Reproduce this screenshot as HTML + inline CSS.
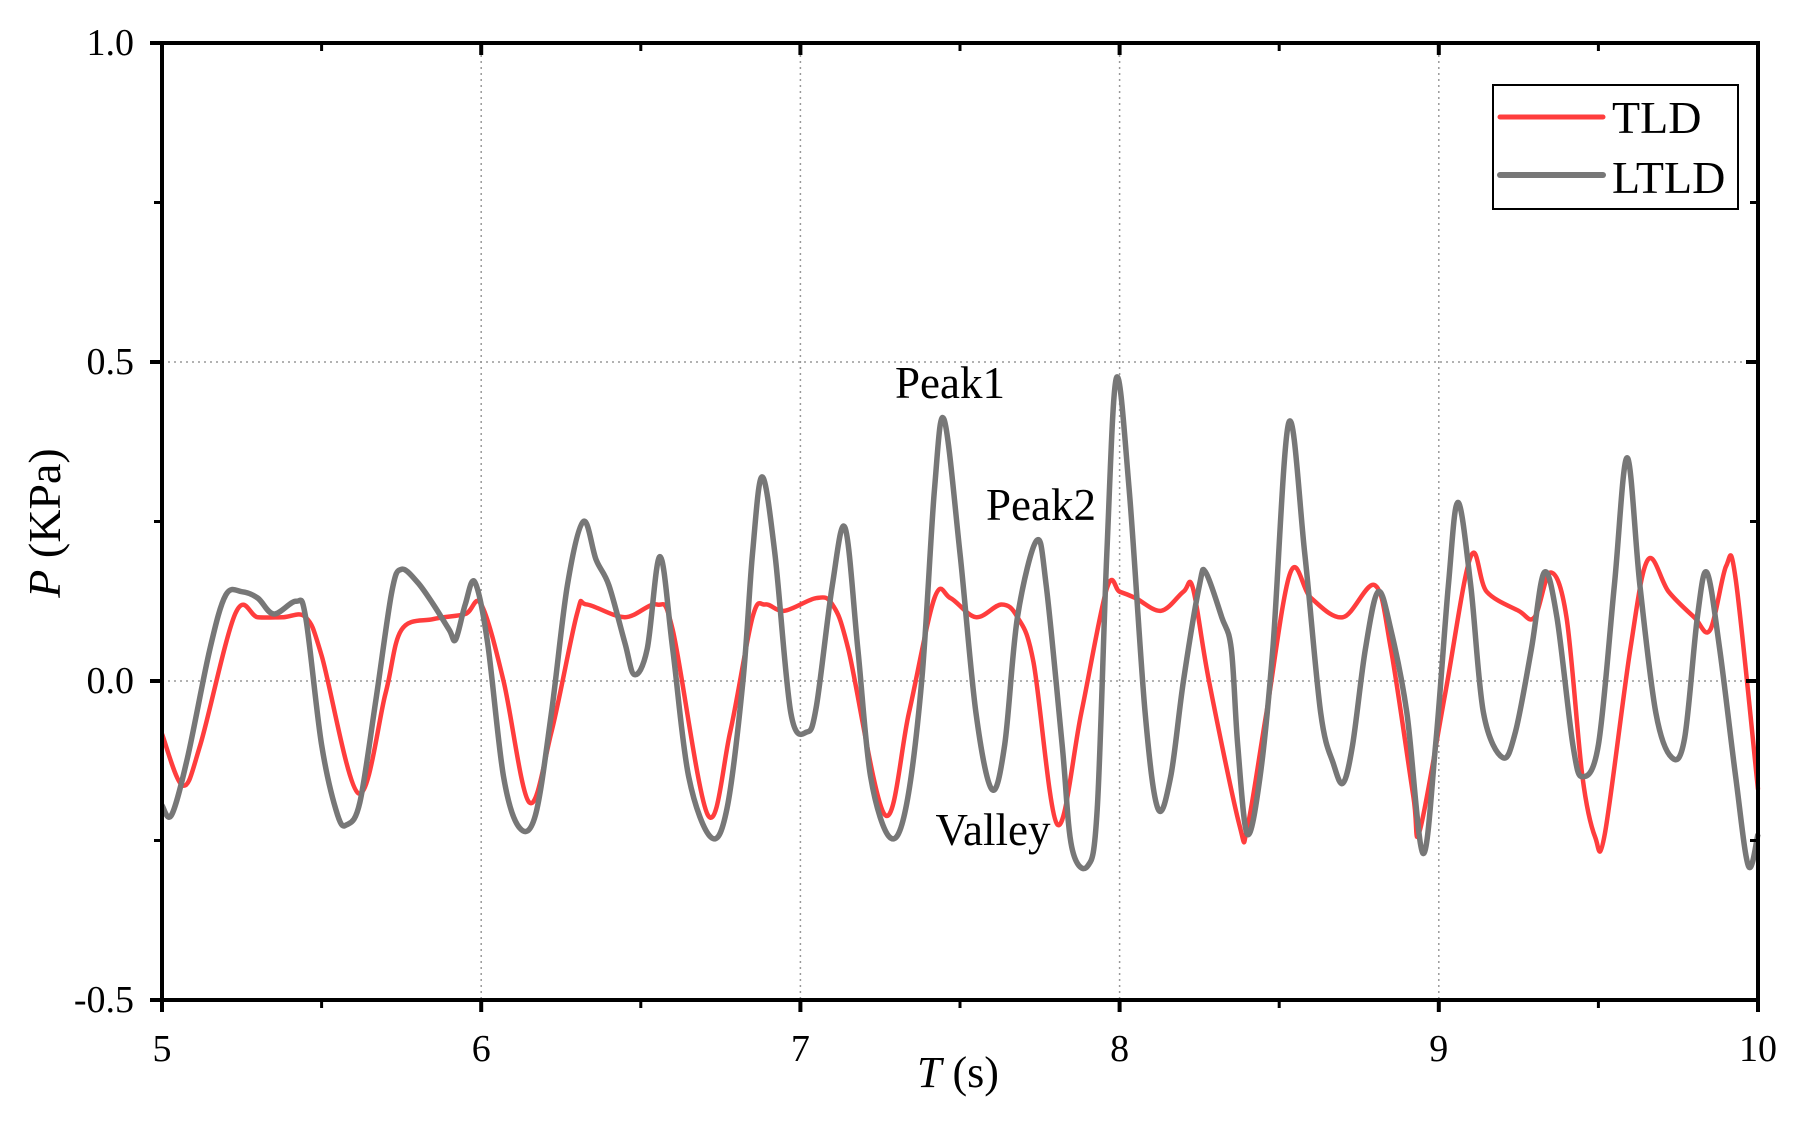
<!DOCTYPE html>
<html><head><meta charset="utf-8"><style>
body{margin:0;background:#fff}
svg{display:block}
text{font-family:"Liberation Serif",serif;fill:#000}
</style></head><body>
<svg id="chart" width="1800" height="1124" viewBox="0 0 1800 1124">
<g id="grid"></g>
<g id="series"></g>
<g id="axes"></g>
<text x="950" y="398" font-size="45" text-anchor="middle">Peak1</text>
<text x="1041" y="520" font-size="45" text-anchor="middle">Peak2</text>
<text x="993" y="845" font-size="45" text-anchor="middle">Valley</text>
<text x="958" y="1087" font-size="44" text-anchor="middle"><tspan font-style="italic">T</tspan> (s)</text>
<text transform="translate(60,523) rotate(-90)" font-size="46" text-anchor="middle"><tspan font-style="italic">P</tspan> (KPa)</text>
<g>
<rect x="1493" y="85" width="245" height="124" fill="#fff" stroke="#000" stroke-width="2"/>
<line x1="1500" y1="117" x2="1603" y2="117" stroke="#ff3d3d" stroke-width="5" stroke-linecap="round"/>
<text x="1612" y="133" font-size="46">TLD</text>
<line x1="1500" y1="175" x2="1603" y2="175" stroke="#777" stroke-width="6" stroke-linecap="round"/>
<text x="1612" y="193" font-size="46">LTLD</text>
</g>
</svg>
<script>
const xTicks=[5,6,7,8,9,10];
const xTickLabels=["5","6","7","8","9","10"];
const yTicks=[-0.5,0,0.5,1.0];
const yTickLabels=["-0.5","0.0","0.5","1.0"];
const tldT=[5.0,5.065,5.12,5.23,5.3,5.38,5.45,5.5,5.615,5.7,5.75,5.85,5.95,6.0,6.07,6.15,6.22,6.3,6.33,6.45,6.55,6.6,6.71,6.78,6.85,6.89,6.95,7.05,7.1,7.15,7.265,7.34,7.42,7.47,7.55,7.63,7.68,7.73,7.805,7.88,7.96,8.0,8.05,8.13,8.2,8.23,8.28,8.375,8.4,8.46,8.535,8.6,8.7,8.8,8.85,8.92,8.94,9.02,9.1,9.15,9.25,9.3,9.35,9.4,9.45,9.49,9.52,9.6,9.655,9.72,9.8,9.85,9.9,9.93,10.0];
const tldV=[-0.083,-0.164,-0.1,0.106,0.1,0.1,0.1,0.04,-0.176,-0.02,0.08,0.097,0.105,0.12,0.0,-0.19,-0.08,0.105,0.12,0.1,0.12,0.08,-0.21,-0.08,0.1,0.12,0.11,0.13,0.12,0.05,-0.21,-0.05,0.13,0.13,0.1,0.12,0.1,0.03,-0.225,-0.05,0.145,0.14,0.13,0.11,0.14,0.145,0.0,-0.225,-0.23,-0.05,0.17,0.13,0.1,0.15,0.05,-0.18,-0.235,-0.02,0.195,0.14,0.11,0.1,0.17,0.1,-0.15,-0.245,-0.24,0.05,0.19,0.14,0.1,0.08,0.18,0.16,-0.17];
const ltldT=[5.0,5.03,5.08,5.15,5.2,5.25,5.3,5.35,5.42,5.45,5.5,5.55,5.58,5.62,5.67,5.72,5.75,5.8,5.85,5.9,5.92,5.95,5.98,6.02,6.07,6.12,6.17,6.22,6.27,6.32,6.36,6.4,6.45,6.48,6.52,6.56,6.6,6.65,6.72,6.77,6.82,6.85,6.88,6.92,6.97,7.02,7.05,7.1,7.14,7.18,7.22,7.28,7.33,7.38,7.42,7.45,7.5,7.55,7.6,7.64,7.68,7.74,7.77,7.82,7.85,7.9,7.93,7.96,7.99,8.03,8.08,8.12,8.16,8.2,8.25,8.27,8.32,8.35,8.37,8.4,8.44,8.48,8.53,8.58,8.63,8.67,8.7,8.73,8.77,8.81,8.85,8.9,8.95,8.99,9.03,9.06,9.1,9.14,9.2,9.24,9.29,9.33,9.37,9.42,9.45,9.5,9.55,9.59,9.63,9.68,9.73,9.77,9.81,9.84,9.88,9.93,9.97,10.0];
const ltldV=[-0.195,-0.21,-0.12,0.05,0.135,0.14,0.13,0.105,0.125,0.1,-0.1,-0.21,-0.225,-0.19,-0.03,0.14,0.175,0.155,0.12,0.08,0.065,0.12,0.155,0.06,-0.15,-0.23,-0.21,-0.05,0.15,0.25,0.19,0.15,0.06,0.01,0.05,0.195,0.05,-0.15,-0.245,-0.2,0.0,0.2,0.32,0.2,-0.05,-0.08,-0.04,0.15,0.24,0.05,-0.15,-0.245,-0.2,0.0,0.3,0.41,0.2,-0.05,-0.17,-0.1,0.1,0.22,0.15,-0.1,-0.26,-0.29,-0.2,0.2,0.475,0.3,-0.05,-0.2,-0.15,0.0,0.15,0.17,0.1,0.05,-0.1,-0.24,-0.15,0.05,0.405,0.2,-0.05,-0.13,-0.16,-0.1,0.05,0.14,0.08,-0.05,-0.27,-0.1,0.15,0.28,0.15,-0.05,-0.12,-0.08,0.05,0.17,0.1,-0.1,-0.15,-0.1,0.15,0.35,0.15,-0.05,-0.12,-0.09,0.1,0.17,0.05,-0.15,-0.29,-0.24];

const L=162,R=1758,T=43,B=1000;
const xs=t=>L+(t-5)/5*(R-L);
const ys=v=>B-(v+0.5)/1.5*(B-T);
const NS='http://www.w3.org/2000/svg';
function mk(tag,attrs,parent){const e=document.createElementNS(NS,tag);for(const k in attrs)e.setAttribute(k,attrs[k]);parent.appendChild(e);return e;}
const grid=document.getElementById('grid'),axes=document.getElementById('axes'),series=document.getElementById('series');
xTicks.forEach((t,i)=>{
  if(t>5&&t<10){const g=mk('line',{x1:xs(t),x2:xs(t),y1:T,y2:B,stroke:'#999','stroke-width':1.5,'stroke-dasharray':'2,4'},grid);
  
  }
  const tk=mk('line',{x1:xs(t),x2:xs(t),y1:B,y2:B+12,stroke:'#000','stroke-width':4},axes);
  
  
  mk('line',{x1:xs(t),x2:xs(t),y1:T,y2:T+12,stroke:'#000','stroke-width':4},axes);
  if(t<10){mk('line',{x1:xs(t+0.5),x2:xs(t+0.5),y1:B,y2:B+8,stroke:'#000','stroke-width':3},axes);
  mk('line',{x1:xs(t+0.5),x2:xs(t+0.5),y1:T,y2:T+8,stroke:'#000','stroke-width':3},axes);}
  const lb=mk('text',{x:xs(t),y:1061,'font-size':38,'text-anchor':'middle'},axes);
  lb.textContent=xTickLabels[i];
  
  
});
yTicks.forEach((v,i)=>{
  if(v>-0.5&&v<1){const g=mk('line',{x1:L,x2:R,y1:ys(v),y2:ys(v),stroke:'#999','stroke-width':1.5,'stroke-dasharray':'2,4'},grid);
  
  }
  const tk=mk('line',{x1:L-12,x2:L,y1:ys(v),y2:ys(v),stroke:'#000','stroke-width':4},axes);
  
  
  mk('line',{x1:R-12,x2:R,y1:ys(v),y2:ys(v),stroke:'#000','stroke-width':4},axes);
  if(v<1){mk('line',{x1:L-8,x2:L,y1:ys(v+0.25),y2:ys(v+0.25),stroke:'#000','stroke-width':3},axes);
  mk('line',{x1:R-8,x2:R,y1:ys(v+0.25),y2:ys(v+0.25),stroke:'#000','stroke-width':3},axes);}
  const lb=mk('text',{x:L-28,y:ys(v)+12,'font-size':38,'text-anchor':'end'},axes);
  lb.textContent=yTickLabels[i];
  
  
});
const frame=mk('rect',{x:L,y:T,width:R-L,height:B-T,fill:'none',stroke:'#000','stroke-width':4},axes);


function pathFor(ts,vs){
  const p=ts.map((t,i)=>[xs(t),ys(vs[i])]);
  let d='M'+p[0][0]+','+p[0][1];
  for(let i=0;i<p.length-1;i++){
    const p0=p[i-1]||p[i],p1=p[i],p2=p[i+1],p3=p[i+2]||p[i+1];
    const c1=[p1[0]+(p2[0]-p0[0])/6,p1[1]+(p2[1]-p0[1])/6],c2=[p2[0]-(p3[0]-p1[0])/6,p2[1]-(p3[1]-p1[1])/6];
    d+=`C${c1[0]},${c1[1]} ${c2[0]},${c2[1]} ${p2[0]},${p2[1]}`;
  }
  return d;
}
const red=mk('path',{d:pathFor(tldT,tldV),fill:'none',stroke:'#ff3d3d','stroke-width':4.5,'stroke-linejoin':'round'},series);


const gray=mk('path',{d:pathFor(ltldT,ltldV),fill:'none',stroke:'#777','stroke-width':5.5,'stroke-linejoin':'round'},series);


</script>
</body></html>
